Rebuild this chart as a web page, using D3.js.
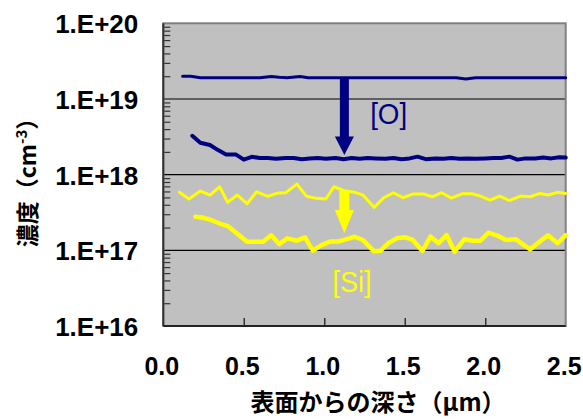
<!DOCTYPE html>
<html><head><meta charset="utf-8">
<script src="https://cdn.jsdelivr.net/npm/d3@7"></script>
<style>body{margin:0;background:#fff}</style>
</head><body><svg id="c" width="583" height="419"></svg>
<script>
const xTicks=[0,0.5,1,1.5,2,2.5];
const xTickLabels=["0.0","0.5","1.0","1.5","2.0","2.5"];
const yTicks=[1e16,1e17,1e18,1e19,1e20];
const yTickLabels=["1.E+16","1.E+17","1.E+18","1.E+19","1.E+20"];
const xTitle="表面からの深さ（μm）";

// [O] before (upper) – units 1e19
const oUpperDepth=[0.12,0.17,0.23,0.30,0.40,0.50,0.60,0.67,0.72,0.77,0.85,0.90,1.00,1.10,1.20,1.30,1.40,1.50,1.60,1.70,1.82,1.88,1.94,2.00,2.10,2.20,2.30,2.40,2.50];
const oUpper=[2.00,2.00,1.91,1.91,1.91,1.91,1.91,1.98,1.93,1.91,1.98,1.91,1.91,1.91,1.91,1.91,1.91,1.91,1.91,1.91,1.91,1.84,1.91,1.91,1.91,1.91,1.91,1.91,1.91];
// [O] after (lower) – units 1e18
const oLowerDepth=[0.18,0.23,0.29,0.34,0.39,0.45,0.50,0.55,0.60,0.65,0.70,0.76,0.81,0.86,0.91,0.96,1.01,1.07,1.12,1.17,1.22,1.27,1.32,1.38,1.43,1.48,1.53,1.58,1.63,1.69,1.74,1.79,1.84,1.89,1.94,2.00,2.05,2.10,2.15,2.20,2.25,2.31,2.36,2.41,2.46,2.50];
const oLower=[3.26,2.64,2.46,2.11,1.85,1.85,1.58,1.72,1.66,1.66,1.62,1.66,1.66,1.60,1.64,1.66,1.62,1.66,1.60,1.66,1.62,1.66,1.64,1.62,1.66,1.60,1.64,1.73,1.60,1.64,1.62,1.66,1.62,1.64,1.62,1.64,1.66,1.66,1.73,1.58,1.64,1.64,1.68,1.64,1.70,1.68];
// [Si] before (upper) – units 1e17
const siUpperDepth=[0.10,0.16,0.23,0.29,0.35,0.40,0.46,0.52,0.58,0.65,0.71,0.76,0.83,0.89,0.95,1.01,1.06,1.13,1.19,1.24,1.31,1.37,1.43,1.49,1.55,1.62,1.67,1.73,1.79,1.86,1.92,1.97,2.03,2.09,2.15,2.22,2.28,2.34,2.39,2.45,2.50];
const siUpper=[5.84,4.76,6.07,5.38,6.92,4.30,5.38,4.13,5.94,5.17,5.71,5.77,7.50,5.17,4.86,4.76,6.92,6.07,5.84,5.38,3.70,4.95,5.77,4.95,5.54,5.54,5.10,5.77,4.90,5.60,5.60,5.21,4.62,5.21,4.55,5.21,5.10,5.65,5.38,5.84,5.65];
// [Si] after (lower) – units 1e17
const siLowerDepth=[0.20,0.25,0.30,0.35,0.40,0.47,0.52,0.62,0.67,0.72,0.77,0.83,0.88,0.93,0.98,1.04,1.09,1.14,1.19,1.24,1.31,1.35,1.40,1.45,1.50,1.55,1.61,1.66,1.71,1.76,1.81,1.87,1.92,1.97,2.02,2.08,2.13,2.19,2.24,2.28,2.33,2.39,2.45,2.50];
const siLower=[2.78,2.69,2.50,2.26,2.09,1.59,1.30,1.30,1.58,1.21,1.44,1.34,1.48,0.99,1.16,1.31,1.31,1.41,1.51,1.37,0.97,0.99,1.25,1.44,1.49,1.37,0.98,1.52,1.24,1.59,0.96,1.40,1.34,1.34,1.71,1.55,1.37,1.40,1.17,1.03,1.26,1.58,1.24,1.59];

// annotation arrows (depth, from, headStart, tip)
const oArrow=[1.125,1.91e19,3.2e18,1.82e18];
const siArrow=[1.125,6.07e17,3.4e17,1.68e17];
const oLabel=[1.40,4.6e18,"[O]"];
const siLabel=[1.173,2.8e16,"[Si]"];

const svg=d3.select("#c");
const m={l:163.3,r:565.7,t:23.3,b:326};
const x=d3.scaleLinear().domain([0,2.5]).range([m.l,m.r]);
const y=d3.scaleLog().domain([1e16,1e20]).range([m.b,m.t]);
const NAVY="#000080", YEL="#FFFF00";
const font="'Liberation Sans',Arial,sans-serif";
const cjk="'Noto Sans CJK JP','Liberation Sans',sans-serif";

svg.append("rect").attr("x",m.l).attr("y",m.t).attr("width",m.r-m.l).attr("height",m.b-m.t).attr("fill","#C0C0C0");

// gridlines
svg.append("g").selectAll("line").data(yTicks.slice(1,4)).join("line")
  .attr("x1",m.l).attr("x2",m.r).attr("y1",d=>y(d)).attr("y2",d=>y(d))
  .attr("stroke","#000").attr("stroke-width",1.2);

// minor ticks on y
const minor=[];
for(let e=16;e<20;e++) for(let k=2;k<=9;k++) minor.push(k*Math.pow(10,e));
const gm=svg.append("g").attr("transform",`translate(${m.l},0)`)
  .call(d3.axisRight(y).tickValues(minor).tickSize(7).tickFormat(""));
gm.select(".domain").remove();
gm.selectAll("line").attr("stroke","#333").attr("stroke-width",1.2);

// x ticks inside
const gx=svg.append("g").attr("transform",`translate(0,${m.b})`)
  .call(d3.axisTop(x).tickValues(xTicks.slice(1,5)).tickSize(8).tickFormat(""));
gx.select(".domain").remove();
gx.selectAll("line").attr("stroke","#333").attr("stroke-width",1.5);

// border
svg.append("rect").attr("x",m.l).attr("y",m.t).attr("width",m.r-m.l).attr("height",m.b-m.t)
  .attr("fill","none").attr("stroke","#808080").attr("stroke-width",2);
svg.append("line").attr("x1",m.l).attr("x2",m.l).attr("y1",m.t).attr("y2",m.b).attr("stroke","#333").attr("stroke-width",2);
svg.append("line").attr("x1",m.l).attr("x2",m.r).attr("y1",m.b).attr("y2",m.b).attr("stroke","#222").attr("stroke-width",2);

// y tick labels
const gy=svg.append("g").attr("transform",`translate(${m.l},0)`)
  .call(d3.axisLeft(y).tickValues(yTicks).tickSize(0).tickPadding(25).tickFormat((d,i)=>yTickLabels[i]));
gy.select(".domain").remove();
gy.selectAll("text").attr("font-family",font).attr("font-size",26).attr("font-weight","bold").attr("fill","#000").attr("dy","0.36em");

// x tick labels
const gxl=svg.append("g").attr("transform",`translate(0,${m.b})`)
  .call(d3.axisBottom(x).tickValues(xTicks).tickSize(0).tickFormat((d,i)=>xTickLabels[i]));
gxl.select(".domain").remove();
gxl.selectAll("text").attr("font-family",font).attr("font-size",25).attr("font-weight","bold").attr("fill","#000")
  .attr("y",49).attr("dy",0).attr("dx",-2);

// series
function draw(depth,vals,scale,color,w){
  const pts=depth.map((d,i)=>[d,vals[i]*scale]);
  svg.append("path").datum(pts).attr("fill","none").attr("stroke",color).attr("stroke-width",w)
    .attr("stroke-linejoin","round").attr("stroke-linecap","round")
    .attr("d",d3.line().x(p=>x(p[0])).y(p=>y(p[1])));
}
draw(oUpperDepth,oUpper,1e19,NAVY,3);
draw(oLowerDepth,oLower,1e18,NAVY,4);
draw(siUpperDepth,siUpper,1e17,YEL,3);
draw(siLowerDepth,siLower,1e17,YEL,4.5);

// arrows
function arrow(a,color,sw,hw){
  const cx=x(a[0]);
  const pts=[[cx-sw,y(a[1])],[cx+sw,y(a[1])],[cx+sw,y(a[2])],[cx+hw,y(a[2])],[cx,y(a[3])],[cx-hw,y(a[2])],[cx-sw,y(a[2])]];
  svg.append("polygon").attr("points",pts.map(p=>p.join(",")).join(" ")).attr("fill",color);
}
arrow(oArrow,NAVY,4.5,9.5);
arrow(siArrow,YEL,5,9.5);

svg.append("text").attr("x",x(oLabel[0])).attr("y",y(oLabel[1])).attr("text-anchor","middle")
  .attr("font-family",font).attr("font-size",29).attr("fill",NAVY)
  .attr("textLength",37).attr("lengthAdjust","spacingAndGlyphs").text(oLabel[2]);
svg.append("text").attr("x",x(siLabel[0])).attr("y",y(siLabel[1])).attr("text-anchor","middle")
  .attr("font-family",font).attr("font-size",29).attr("fill",YEL)
  .attr("textLength",39).attr("lengthAdjust","spacingAndGlyphs").text(siLabel[2]);

// axis titles
svg.append("text").attr("x",378).attr("y",411).attr("text-anchor","middle")
  .attr("font-family",cjk).attr("font-size",24).attr("font-weight","bold").attr("fill","#000").text(xTitle);
const yt=svg.append("text").attr("transform","translate(36,177) rotate(-90)").attr("text-anchor","middle")
  .attr("font-family",cjk).attr("font-size",23).attr("font-weight","bold").attr("fill","#000");
yt.append("tspan").text("濃度（cm");
yt.append("tspan").attr("dy",-9).attr("font-size",15).text("-3");
yt.append("tspan").attr("dy",9).text("）");
</script></body></html>
